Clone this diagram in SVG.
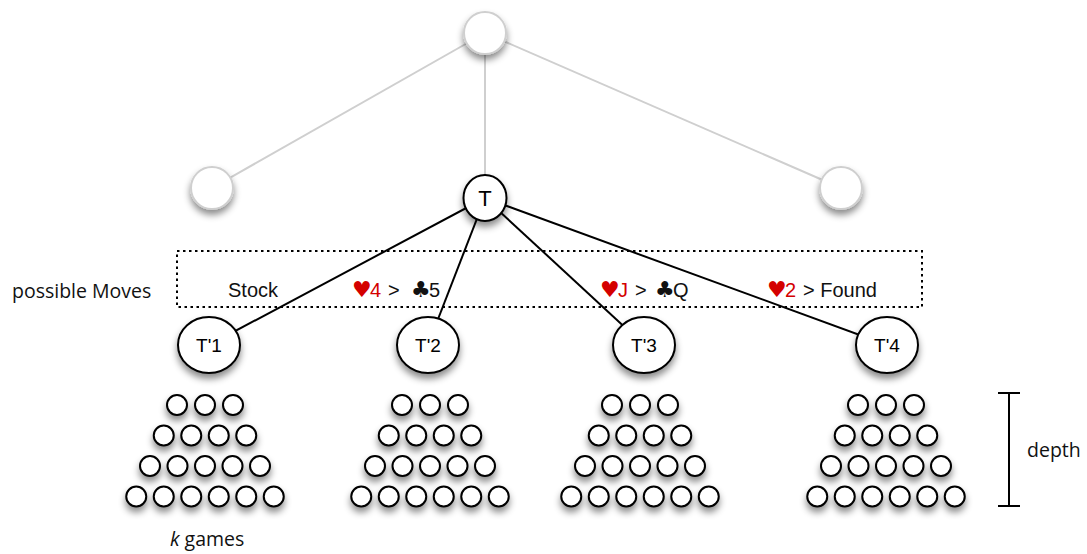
<svg xmlns="http://www.w3.org/2000/svg" width="1087" height="554" viewBox="0 0 1087 554">
<defs>
<filter id="sh" x="-50%" y="-50%" width="200%" height="220%">
<feDropShadow dx="0" dy="5" stdDeviation="3.5" flood-color="#000" flood-opacity="0.45"/>
</filter>
<g id="pyr" fill="#fff" stroke="#000" stroke-width="2">
<circle cx="-28" cy="0" r="10"/><circle cx="0" cy="0" r="10"/><circle cx="28" cy="0" r="10"/>
<circle cx="-41.25" cy="30.5" r="10"/><circle cx="-13.75" cy="30.5" r="10"/><circle cx="13.75" cy="30.5" r="10"/><circle cx="41.25" cy="30.5" r="10"/>
<circle cx="-55" cy="61" r="10"/><circle cx="-27.5" cy="61" r="10"/><circle cx="0" cy="61" r="10"/><circle cx="27.5" cy="61" r="10"/><circle cx="55" cy="61" r="10"/>
<circle cx="-68.75" cy="91.5" r="10"/><circle cx="-41.25" cy="91.5" r="10"/><circle cx="-13.75" cy="91.5" r="10"/><circle cx="13.75" cy="91.5" r="10"/><circle cx="41.25" cy="91.5" r="10"/><circle cx="68.75" cy="91.5" r="10"/>
</g>
</defs>
<style>
.gnode{fill:#fff;stroke:#cfcfcf;stroke-width:2;filter:url(#sh)}
.node{fill:#fff;stroke:#000;stroke-width:2;filter:url(#sh)}
.leaf{filter:url(#sh)}
.gline{stroke:#cfcfcf;stroke-width:2;fill:none}
.bline{stroke:#000;stroke-width:2;fill:none}
.lbl{font-family:"Liberation Sans",Arial,sans-serif;font-size:20px;fill:#111}
.red{fill:#d40000}
.sym{font-family:"DejaVu Sans",sans-serif;font-size:22px}
.cal{font-family:"Open Sans",Lato,sans-serif;font-size:19.5px;fill:#111}
.nl{font-family:"Liberation Sans",Arial,sans-serif;font-size:19px;fill:#000;text-anchor:middle}
</style>
<g id="connectors">
<line class="gline" x1="485" y1="33" x2="212" y2="188"/>
<line class="gline" x1="485" y1="33" x2="485" y2="198"/>
<line class="gline" x1="485" y1="33" x2="841" y2="188"/>
<line class="bline" x1="485" y1="198" x2="209" y2="345"/>
<line class="bline" x1="485" y1="198" x2="428" y2="345"/>
<line class="bline" x1="485" y1="198" x2="644" y2="345"/>
<line class="bline" x1="485" y1="198" x2="887" y2="345"/>
</g>
<g id="moves-box">
<rect x="177" y="251" width="745" height="56" fill="none" stroke="#000" stroke-width="2" stroke-dasharray="2.5,3.5"/>
</g>
<g id="root"><circle class="gnode" cx="485" cy="33" r="21"/></g>
<g id="left"><circle class="gnode" cx="212" cy="188" r="21"/></g>
<g id="right"><circle class="gnode" cx="841" cy="188" r="21"/></g>
<g id="T"><ellipse class="node" cx="485" cy="198" rx="21.5" ry="23"/><text class="nl" x="485" y="206" style="font-size:22px">T</text></g>
<g id="T1"><ellipse class="node" cx="209" cy="345" rx="31" ry="28"/><text class="nl" x="209" y="352">T'1</text></g>
<g id="T2"><ellipse class="node" cx="428" cy="345" rx="31" ry="28"/><text class="nl" x="428" y="352">T'2</text></g>
<g id="T3"><ellipse class="node" cx="644" cy="345" rx="31" ry="28"/><text class="nl" x="644" y="352">T'3</text></g>
<g id="T4"><ellipse class="node" cx="887" cy="345" rx="31" ry="28"/><text class="nl" x="887" y="352">T'4</text></g>
<g id="games1" class="leaf"><use href="#pyr" x="205" y="405"/></g>
<g id="games2" class="leaf"><use href="#pyr" x="430" y="405"/></g>
<g id="games3" class="leaf"><use href="#pyr" x="640" y="405"/></g>
<g id="games4" class="leaf"><use href="#pyr" x="886" y="405"/></g>
<g id="labels">
<text class="cal" x="12" y="298">possible Moves</text>
<text class="lbl" x="228" y="297">Stock</text>
<text class="lbl" y="297"><tspan class="red sym" x="352">♥</tspan><tspan class="red" x="370">4</tspan><tspan x="388">&gt;</tspan><tspan class="sym" x="411">♣</tspan><tspan x="429">5</tspan></text>
<text class="lbl" y="297"><tspan class="red sym" x="600">♥</tspan><tspan class="red" x="618">J</tspan><tspan x="635">&gt;</tspan><tspan class="sym" x="655">♣</tspan><tspan x="673">Q</tspan></text>
<text class="lbl" y="297"><tspan class="red sym" x="767">♥</tspan><tspan class="red" x="785">2</tspan><tspan x="803">&gt; Found</tspan></text>
<text class="cal" x="1027" y="457">depth</text>
<text class="cal" x="170" y="546"><tspan font-style="italic">k</tspan> games</text>
</g>
<g id="depth-bar" stroke="#000" stroke-width="2">
<line x1="1009" y1="393" x2="1009" y2="506"/>
<line x1="998" y1="393" x2="1020" y2="393"/>
<line x1="998" y1="506" x2="1020" y2="506"/>
</g>
</svg>
